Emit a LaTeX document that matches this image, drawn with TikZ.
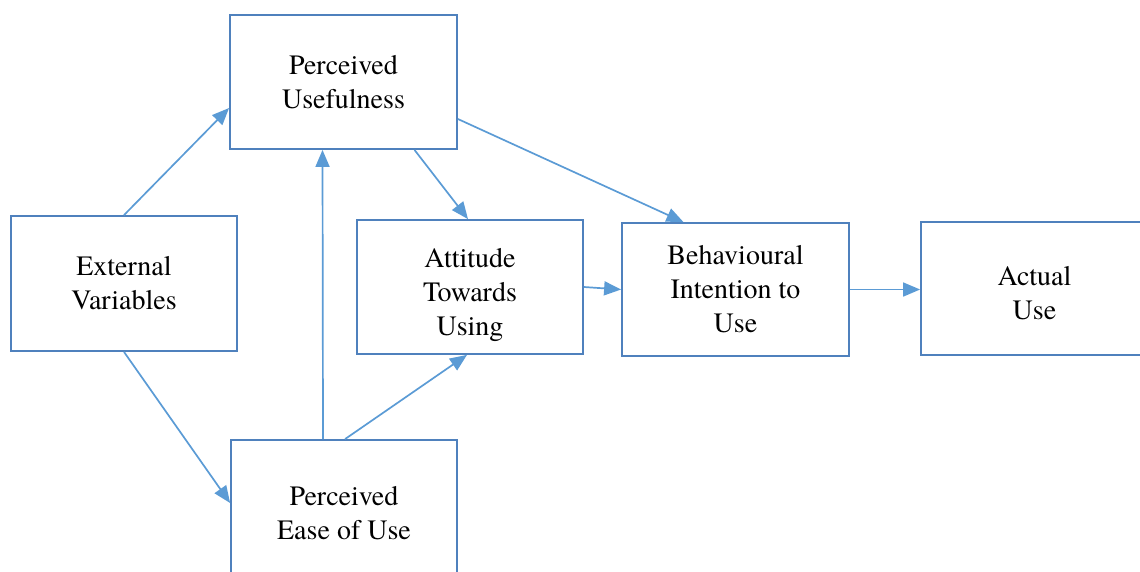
\documentclass[tikz,border=0pt]{standalone}
\usepackage{fontspec}
\setmainfont{texgyretermes-regular.otf}
\usetikzlibrary{arrows.meta}
\definecolor{boxline}{HTML}{4F81BD}
\definecolor{arrowline}{HTML}{5B9BD5}
\begin{document}
\begin{tikzpicture}[x=1pt,y=-1pt,
  stage/.style={draw=boxline, line width=1.8pt, fill=white,
    inner sep=0pt, minimum width=227pt, minimum height=134pt},
  caption/.style={align=center, inner sep=0pt,
    font=\fontsize{28}{34}\selectfont, text=black},
  link/.style={draw=arrowline, line width=1.7pt,
    -{Triangle[length=17pt,width=14pt]}}]
\useasboundingbox (0,0) rectangle (1140,571);
\clip (0,0) rectangle (1140,571);

% the six constructs of the model
\node[stage] (pu)   at (343.5,82)   {};
\node[stage, minimum width=226pt, minimum height=135pt] (ev) at (124,283.5) {};
\node[stage, minimum width=226pt] (atu)  at (470,287)    {};
\node[stage, minimum height=133pt] (bi)   at (735.5,289.5) {};
\node[stage, minimum height=133pt] (au)   at (1034.5,288.5) {};
\node[stage, minimum width=226pt, minimum height=140pt] (peou) at (344,510) {};

% their names
\node[caption] (pu-name)   at (pu.center)                  {Perceived\\Usefulness};
\node[caption] (ev-name)   at (ev.center)                  {External\\Variables};
\node[caption] (atu-name)  at ([yshift=-8pt]atu.center)    {Attitude\\Towards\\Using};
\node[caption] (bi-name)   at (bi.center)                  {Behavioural\\Intention to\\Use};
\node[caption] (au-name)   at ([yshift=-5pt]au.center)     {Actual\\Use};
\node[caption] (peou-name) at ([yshift=-3pt]peou.center)   {Perceived\\Ease of Use};

% causal links
\draw[link] (ev.north) -- ([yshift=-26pt]pu.west);
\draw[link] (ev.south) -- ([yshift=7pt]peou.west);
\draw[link] ([xshift=-21pt]peou.north) -- ([xshift=-21pt]pu.south);
\draw[link] ([xshift=1pt]peou.north) -- ([xshift=-3pt]atu.south);
\draw[link] ([xshift=71pt]pu.south) -- ([xshift=-2pt]atu.north);
\draw[link] ([yshift=-37pt]pu.east) -- ([xshift=-52pt]bi.north);
\draw[link] (atu.east) -- (bi.west);
\draw[link] (bi.east) -- (bi.east -| au.west);
\end{tikzpicture}
\end{document}
